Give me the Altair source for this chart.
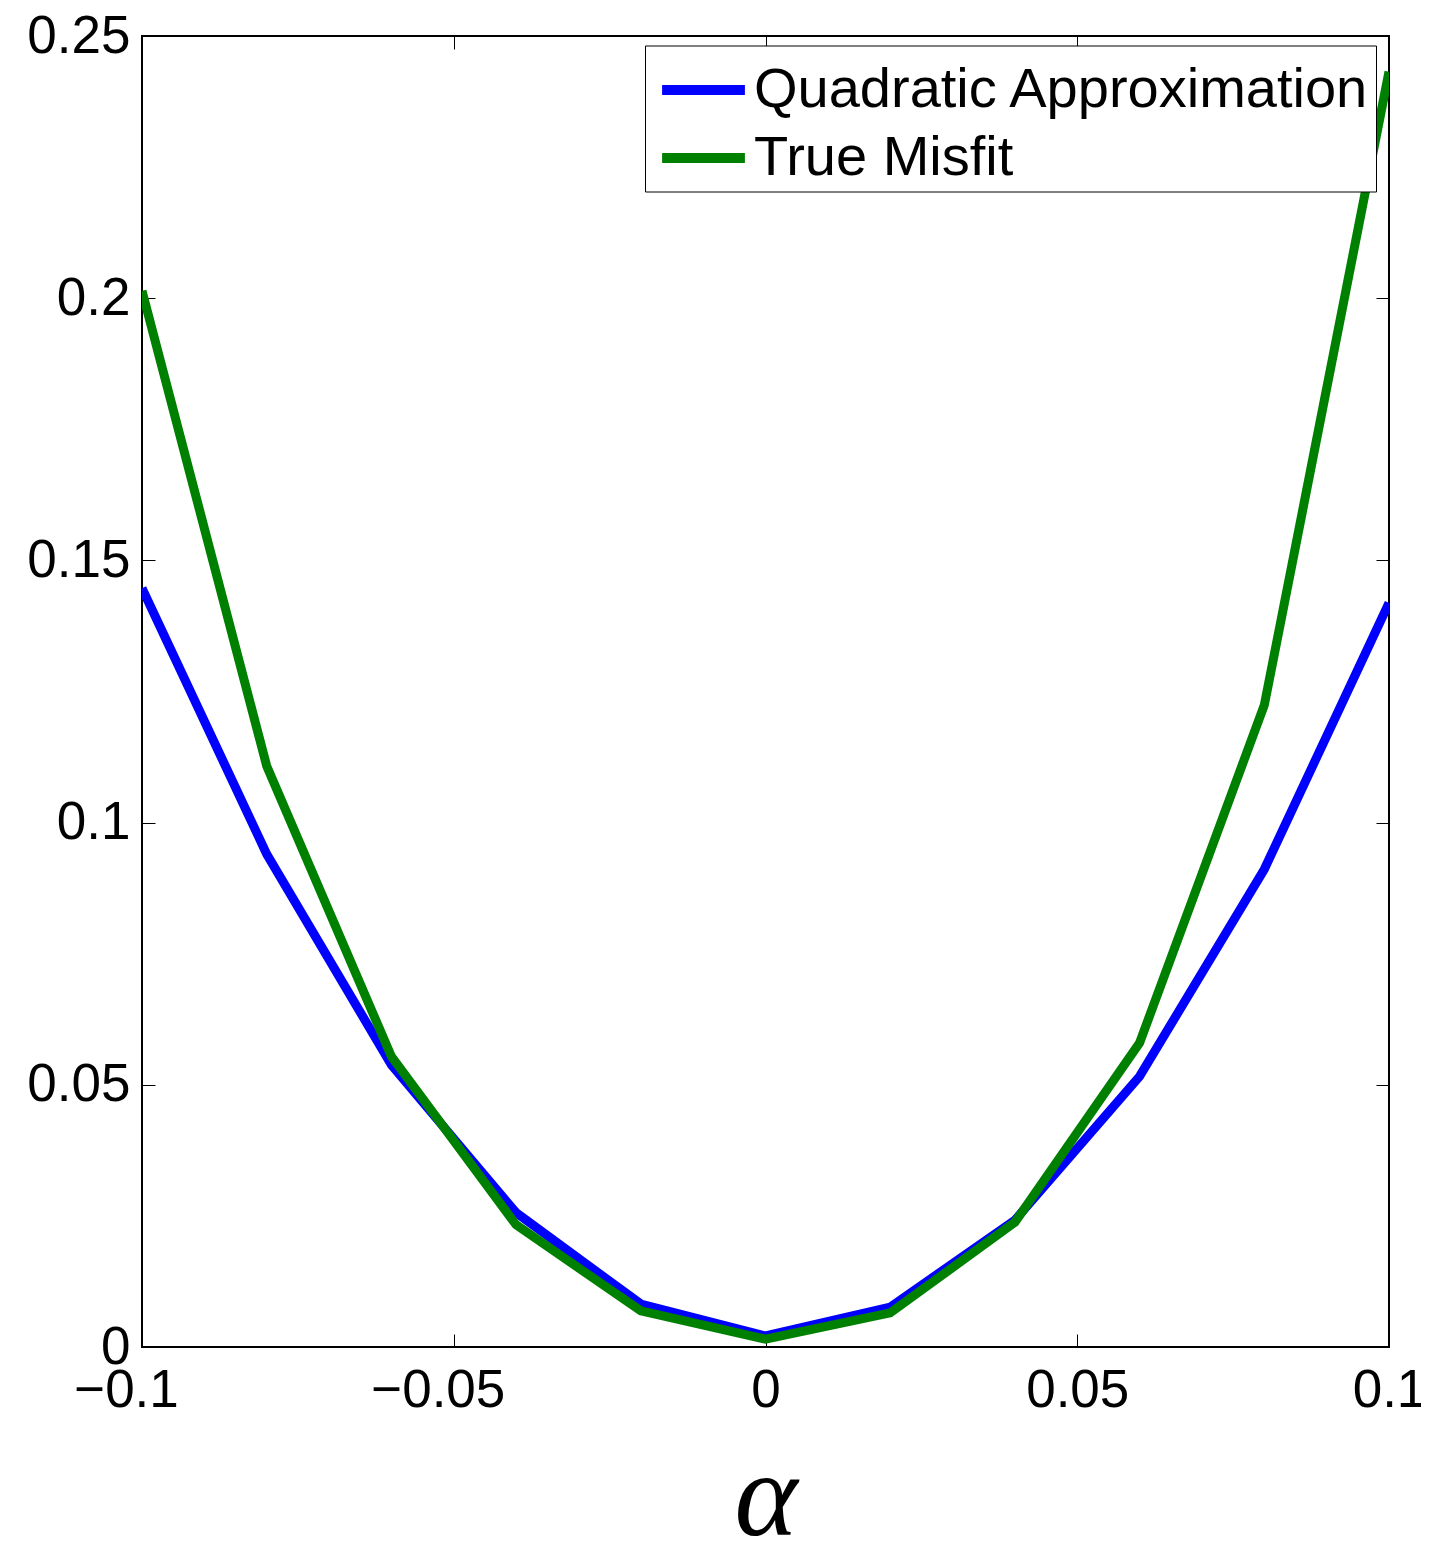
import altair as alt
import pandas as pd

alpha = [-0.1, -0.08, -0.06, -0.04, -0.02, 0.0, 0.02, 0.04, 0.06, 0.08, 0.1]
quadratic = [0.1447, 0.0940, 0.0538, 0.0256, 0.0082, 0.0021, 0.0076, 0.0242, 0.0516, 0.0911, 0.1419]
true_misfit = [0.2014, 0.1108, 0.0554, 0.0233, 0.0069, 0.0015, 0.0065, 0.0238, 0.0580, 0.1224, 0.2432]
series_names = ["Quadratic Approximation", "True Misfit"]
series_colors = ["#0000ff", "#008000"]
x_ticks = [-0.1, -0.05, 0, 0.05, 0.1]
y_ticks = [0, 0.05, 0.1, 0.15, 0.2, 0.25]

rows = []
for a, q in zip(alpha, quadratic):
    rows.append({"alpha": a, "value": q, "series": series_names[0]})
for a, t in zip(alpha, true_misfit):
    rows.append({"alpha": a, "value": t, "series": series_names[1]})
df = pd.DataFrame(rows)

FONT = "Liberation Sans"
TICK = 13

xscale = alt.Scale(domain=[-0.1, 0.1], nice=False, zero=False)
yscale = alt.Scale(domain=[0, 0.25], nice=False, zero=False)

lines = alt.Chart(df).mark_line(strokeWidth=9, clip=True).encode(
    x=alt.X("alpha:Q", scale=xscale,
            axis=alt.Axis(orient="bottom", values=x_ticks, format="~f", domain=False, grid=False,
                          tickSize=TICK, offset=-TICK, tickColor="black", tickWidth=1,
                          labelFont=FONT, labelFontSize=53, labelColor="black",
                          labelPadding=17, labelFlush=False, labelOverlap=False,
                          labelOffset={"condition": {"test": "datum.value < 0", "value": -16}, "value": 0},
                          title="α", titleFont="Liberation Serif", titleFontStyle="italic",
                          titleFontWeight="normal", titleFontSize=120, titleColor="black",
                          titleBaseline="alphabetic", titleY=200)),
    y=alt.Y("value:Q", scale=yscale,
            axis=alt.Axis(orient="left", values=y_ticks, format="~f", domain=False, grid=False,
                          tickSize=TICK, offset=-TICK, tickColor="black", tickWidth=1,
                          labelFont=FONT, labelFontSize=53, labelColor="black",
                          labelPadding=12, labelFlush=False, labelOverlap=False, title=None)),
    color=alt.Color("series:N", scale=alt.Scale(domain=series_names, range=series_colors),
                    legend=alt.Legend(title=None, orient="none", legendX=503, legendY=9.5,
                                      symbolType="M-1.2,0H1.2", symbolStrokeWidth=10, symbolSize=4761,
                                      symbolOffset=14,
                                      labelFont=FONT, labelFontSize=56, labelColor="black",
                                      labelLimit=2000, labelOffset=11, padding=5, rowPadding=0,
                                      strokeColor="black", fillColor="white")),
    order=alt.Order("alpha:Q"),
)

frame = alt.Chart(df).mark_point(opacity=0).encode(
    x=alt.X("alpha:Q", scale=xscale,
            axis=alt.Axis(orient="top", values=x_ticks, labels=False, domain=False, grid=False,
                          tickSize=TICK, offset=-TICK, tickColor="black", tickWidth=1, title=None)),
    y=alt.Y("value:Q", scale=yscale,
            axis=alt.Axis(orient="right", values=y_ticks, labels=False, domain=False, grid=False,
                          tickSize=TICK, offset=-TICK, tickColor="black", tickWidth=1, title=None)),
)

chart = alt.layer(lines, frame).resolve_axis(x="independent", y="independent").properties(
    width=1247, height=1311,
    autosize=alt.AutoSizeParams(type="none"),
    padding={"left": 134, "top": 28, "right": 32, "bottom": 190},
).configure(background="white").configure_view(stroke="black", strokeWidth=2)

chart.save("out.html", embed_options={"renderer": "svg", "actions": False})
